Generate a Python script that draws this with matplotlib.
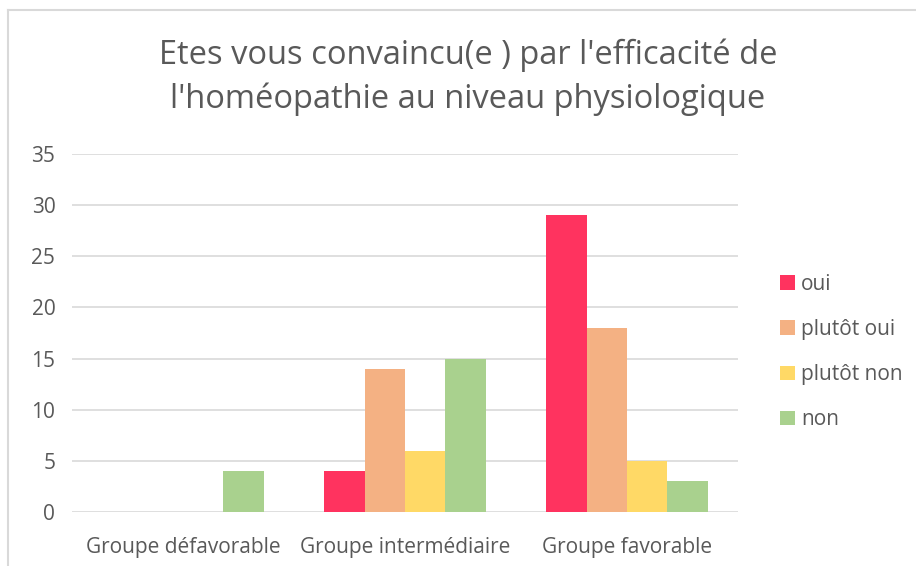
import matplotlib
matplotlib.use('Agg')
import matplotlib.pyplot as plt
from matplotlib.lines import Line2D
import numpy as np

plt.rcParams['font.family'] = ['Open Sans', 'DejaVu Sans']

groups = ['Groupe défavorable', 'Groupe intermédiaire', 'Groupe favorable']
series = ['oui', 'plutôt oui', 'plutôt non', 'non']
oui = [0, 4, 29]
plutot_oui = [0, 14, 18]
plutot_non = [0, 6, 5]
non = [4, 15, 3]
values = [oui, plutot_oui, plutot_non, non]
colors = ['#FF335F', '#F4B183', '#FFD966', '#A9D18E']

fig = plt.figure(figsize=(9.16, 5.66), dpi=100)
ax = fig.add_axes([72/916, 54/566, (738-72)/916, (512-154)/566])

w = 1/5.5
x = np.arange(len(groups))
for i, (name, vals) in enumerate(zip(series, values)):
    ax.bar(x + (i - 1.5)*w, vals, width=w, color=colors[i], label=name, zorder=3)

ax.set_xlim(-0.5, 2.5)
ax.set_ylim(0, 35)
ax.set_yticks(range(0, 36, 5))
ax.set_xticks(x)
ax.set_xticklabels(groups)
ax.yaxis.grid(True, color='#D9D9D9', linewidth=1.2, zorder=0)
for s in ax.spines.values():
    s.set_visible(False)
ax.tick_params(length=0, labelsize=15, labelcolor='#595959')
ax.tick_params(axis='y', pad=12)
ax.tick_params(axis='x', pad=18)

fig.text(468/916, 1 - 77/566,
         "Etes vous convaincu(e ) par l'efficacité de\nl'homéopathie au niveau physiologique",
         ha='center', va='center', fontsize=23.5, color='#595959', linespacing=1.4)

ax.legend(loc='upper left', bbox_to_anchor=(1.045, 0.7), frameon=False, fontsize=15,
          labelcolor='#595959', handlelength=0.7, handleheight=0.7, handletextpad=0.3,
          labelspacing=1.16, borderaxespad=0.2)

fig.add_artist(Line2D([8/916, 8/916], [0, 1 - 10/566], color='#D9D9D9', linewidth=1.5))
fig.add_artist(Line2D([8/916, 1], [1 - 10/566, 1 - 10/566], color='#D9D9D9', linewidth=1.5))

fig.savefig('out.png', dpi=100)
